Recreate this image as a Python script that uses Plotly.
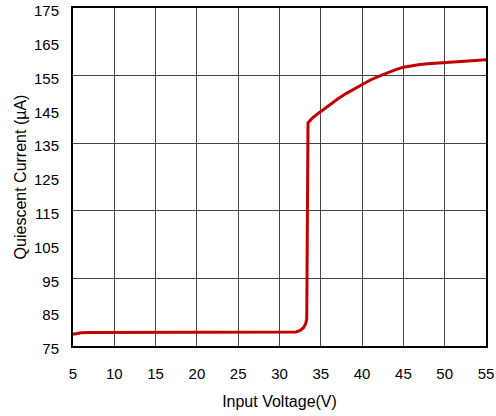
import plotly.graph_objects as go

# Data
voltage = [5, 5.5, 6, 7, 10, 15, 20, 25, 30, 31.5, 32.0, 32.5, 32.9, 33.15, 33.3, 33.45,
           34, 35, 36, 37, 38, 39, 40, 41, 42, 43, 44, 45, 46, 47, 48, 50, 52, 55]
current = [78.5, 78.8, 78.95, 79.0, 79.0, 79.0, 79.0, 79.0, 79.0, 79.0, 79.15, 79.6, 80.4, 81.5, 83.0, 141.0,
           142.5, 144.4, 146.3, 148.0, 149.6, 151.0, 152.5, 153.7, 154.8, 155.8, 156.7, 157.5, 158.0,
           158.3, 158.5, 158.9, 159.2, 159.7]

x_ticks = [5, 10, 15, 20, 25, 30, 35, 40, 45, 50, 55]
y_ticks = [75, 85, 95, 105, 115, 125, 135, 145, 155, 165, 175]
y_grid = [95, 115, 135, 155]

fig = go.Figure()
fig.add_trace(go.Scatter(x=voltage, y=current, mode="lines",
                         line=dict(color="#C00000", width=3),
                         showlegend=False, hoverinfo="skip"))
fig.add_trace(go.Scatter(x=[None], y=[None], yaxis="y2", showlegend=False))

font = dict(family="Liberation Sans, Arial, sans-serif", size=15, color="black")

fig.update_layout(
    width=496, height=416,
    margin=dict(l=73, r=10, t=8, b=70),
    paper_bgcolor="white", plot_bgcolor="white",
    font=font,
    xaxis=dict(range=[5, 55], tickvals=x_ticks, ticktext=[str(v) for v in x_ticks],
               showgrid=True, gridcolor="#444", gridwidth=1, automargin=False,
               showline=True, linecolor="black", linewidth=2, mirror=True,
               ticks="", ticklabelstandoff=13, zeroline=False, ticklabeloverflow="allow",
               title=dict(text="Input Voltage(V)", font=dict(size=16), standoff=15)),
    yaxis=dict(range=[75, 175], tickvals=y_ticks, ticktext=[str(v) for v in y_ticks],
               showgrid=False, showline=True, linecolor="black", linewidth=2, mirror=True,
               ticks="", ticklabelstandoff=9, ticklabelshift=3, zeroline=False, automargin=False,
               ticklabeloverflow="allow",
               title=dict(text="Quiescent Current (µA)", font=dict(size=16), standoff=3)),
    yaxis2=dict(range=[75, 175], tickvals=y_grid, overlaying="y", showticklabels=False,
                showgrid=True, gridcolor="#444", gridwidth=1, zeroline=False, ticks="",
                automargin=False),
)

fig.write_html("out.html", config={"displayModeBar": False},
               post_script="document.body.style.margin='0';document.body.style.overflow='hidden';")
